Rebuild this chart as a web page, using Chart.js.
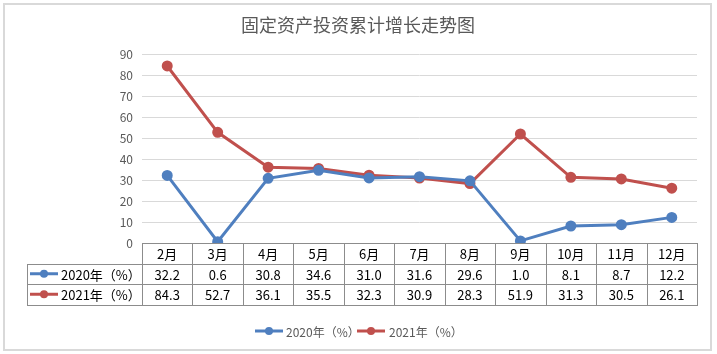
<!DOCTYPE html>
<html>
<head>
<meta charset="utf-8">
<script src="https://cdn.jsdelivr.net/npm/chart.js@4/dist/chart.umd.min.js"></script>
<style>
  html, body { margin: 0; padding: 0; background: #fff; }
  #wrap { width: 717px; height: 354px; position: relative; }
</style>
</head>
<body>
<div id="wrap"><canvas id="chart"></canvas></div>
<script>
var titleText = "固定资产投资累计增长走势图";
var months = ["2月", "3月", "4月", "5月", "6月", "7月", "8月", "9月", "10月", "11月", "12月"];
var label2020 = "2020年（%）";
var label2021 = "2021年（%）";
var values2020 = [32.2, 0.6, 30.8, 34.6, 31.0, 31.6, 29.6, 1.0, 8.1, 8.7, 12.2];
var values2021 = [84.3, 52.7, 36.1, 35.5, 32.3, 30.9, 28.3, 51.9, 31.3, 30.5, 26.1];
var yTicks = [0, 10, 20, 30, 40, 50, 60, 70, 80, 90];

var blue = "#4f7fbf";
var red = "#c0504d";
var font = "'Microsoft YaHei', 'Noto Sans CJK SC', sans-serif";

// draws the title, the data table under the axis, the legend and the frame
var extras = {
    id: "extras",
    afterDraw: function(chart) {
        var ctx = chart.ctx;
        var x = chart.scales.x;
        var area = chart.chartArea;
        var rowH = 20.5;
        var top = area.bottom;
        var labelLeft = 27;
        var colW = (area.right - area.left) / months.length;

        ctx.save();

        // frame
        ctx.strokeStyle = "#d9d9d9";
        ctx.lineWidth = 2;
        ctx.strokeRect(4, 4, 707, 346);

        // title
        ctx.fillStyle = "#595959";
        ctx.font = "18px " + font;
        ctx.textAlign = "center";
        ctx.textBaseline = "middle";
        ctx.fillText(titleText, 358, 25);

        // table grid
        ctx.strokeStyle = "#8c8c8c";
        ctx.lineWidth = 1;
        ctx.beginPath();
        ctx.moveTo(area.left, top + 0.5);
        ctx.lineTo(area.right, top + 0.5);
        for (var r = 1; r <= 3; r++) {
            var yy = Math.round(top + rowH * r) + 0.5;
            ctx.moveTo(labelLeft, yy);
            ctx.lineTo(area.right, yy);
        }
        ctx.moveTo(labelLeft + 0.5, Math.round(top + rowH) );
        ctx.lineTo(labelLeft + 0.5, Math.round(top + rowH * 3) + 1);
        for (var c = 0; c <= months.length; c++) {
            var xx = Math.round(area.left + colW * c) + 0.5;
            ctx.moveTo(xx, top);
            ctx.lineTo(xx, Math.round(top + rowH * 3) + 1);
        }
        ctx.stroke();

        // table text
        ctx.fillStyle = "#000";
        ctx.font = "13px " + font;
        ctx.textAlign = "center";
        months.forEach(function(m, i) {
            var cx = x.getPixelForValue(i);
            ctx.fillText(m, cx, top + rowH * 0.5 + 1);
            ctx.fillText(values2020[i].toFixed(1), cx, top + rowH * 1.5 + 1);
            ctx.fillText(values2021[i].toFixed(1), cx, top + rowH * 2.5 + 1);
        });

        function marker(color, x0, y0) {
            ctx.strokeStyle = color;
            ctx.lineWidth = 3;
            ctx.beginPath();
            ctx.moveTo(x0, y0);
            ctx.lineTo(x0 + 28, y0);
            ctx.stroke();
            ctx.fillStyle = color;
            ctx.beginPath();
            ctx.arc(x0 + 14, y0, 4, 0, Math.PI * 2);
            ctx.fill();
        }

        // row labels
        ctx.textAlign = "left";
        marker(blue, 30, top + rowH * 1.5);
        marker(red, 30, top + rowH * 2.5);
        ctx.fillStyle = "#000";
        ctx.fillText(label2020, 61, top + rowH * 1.5 + 1);
        ctx.fillText(label2021, 61, top + rowH * 2.5 + 1);

        // legend
        marker(blue, 255, 331);
        marker(red, 357, 331);
        ctx.fillStyle = "#595959";
        ctx.font = "12px " + font;
        ctx.fillText(label2020, 286, 332);
        ctx.fillText(label2021, 389, 332);

        ctx.restore();
    }
};

new Chart(document.getElementById("chart"), {
    type: "line",
    data: {
        labels: months,
        datasets: [
            {
                label: label2020,
                data: values2020,
                borderColor: blue,
                backgroundColor: blue,
                borderWidth: 3,
                pointRadius: 4,
                pointHoverRadius: 4,
                fill: false
            },
            {
                label: label2021,
                data: values2021,
                borderColor: red,
                backgroundColor: red,
                borderWidth: 3,
                pointRadius: 4,
                pointHoverRadius: 4,
                fill: false
            }
        ]
    },
    options: {
        responsive: true,
        maintainAspectRatio: false,
        animation: false,
        layout: {
            padding: { top: 54, right: 20, bottom: 111, left: 0 }
        },
        plugins: {
            legend: { display: false },
            title: { display: false },
            tooltip: { enabled: false }
        },
        scales: {
            x: {
                display: false,
                offset: true
            },
            y: {
                min: 0,
                max: 90,
                afterFit: function(scale) {
                    scale.width = 142;
                },
                afterBuildTicks: function(scale) {
                    scale.ticks = yTicks.map(function(v) { return { value: v }; });
                },
                border: { display: false },
                grid: {
                    color: "#d9d9d9",
                    drawTicks: false
                },
                ticks: {
                    padding: 9,
                    color: "#595959",
                    font: { size: 12, family: font }
                }
            }
        }
    },
    plugins: [extras]
});
</script>
</body>
</html>
